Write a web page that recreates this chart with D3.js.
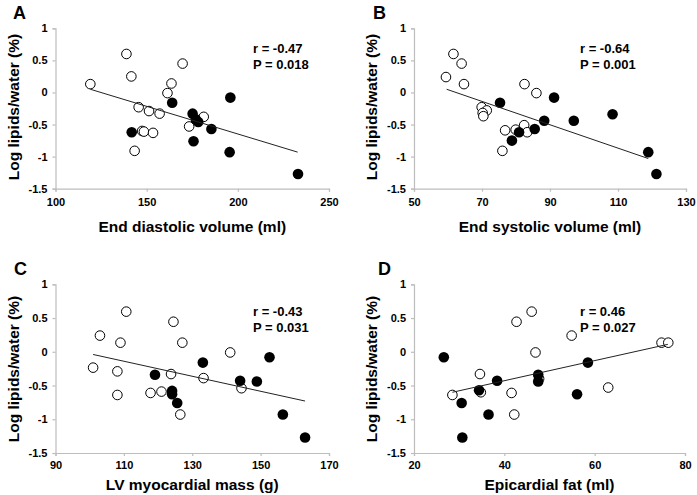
<!DOCTYPE html>
<html><head><meta charset="utf-8">
<script src="https://cdn.jsdelivr.net/npm/d3@7"></script>
<style>body{margin:0;background:#fff}svg{display:block}text{font-family:"Liberation Sans",Arial,sans-serif;font-weight:bold;fill:#000}</style>
</head><body>
<svg id="c" width="697" height="495"></svg>
<script>
// ---- data ----
const yTickValues = [1, 0.5, 0, -0.5, -1, -1.5];
const yTickLabels = ["1", "0.5", "0", "-0.5", "-1", "-1.5"];
const yTitle = "Log lipids/water (%)";

const panelLetters = ["A", "B", "C", "D"];
const xTitles = ["End diastolic volume (ml)", "End systolic volume (ml)", "LV myocardial mass (g)", "Epicardial fat (ml)"];
const xDomains = [[100, 250], [50, 130], [90, 170], [20, 80]];
const xTicksA = [100, 150, 200, 250];
const xTicksB = [50, 70, 90, 110, 130];
const xTicksC = [90, 110, 130, 150, 170];
const xTicksD = [20, 40, 60, 80];
const rLabels = ["r = -0.47", "r = -0.64", "r = -0.43", "r = 0.46"];
const pLabels = ["P = 0.018", "P = 0.001", "P = 0.031", "P = 0.027"];

const openA = [[119.1,0.13],[138.9,0.60],[141.6,0.25],[143.4,-0.91],[145.6,-0.23],[147.5,-0.60],[148.5,-0.61],[151.3,-0.29],[153.5,-0.63],[157.1,-0.33],[161.4,-0.01],[163.6,0.14],[169.7,0.45],[173.3,-0.53],[181.3,-0.38]];
const filledA = [[141.8,-0.62],[164.0,-0.16],[175.2,-0.33],[177.0,-0.42],[178.3,-0.46],[175.7,-0.76],[185.5,-0.57],[195.9,-0.08],[195.5,-0.93],[233.0,-1.27]];
const fitA = [[119.1,0.05],[232.8,-0.93]];

const openB = [[59.4,0.24],[61.6,0.60],[64.0,0.45],[64.7,0.13],[69.9,-0.23],[71.4,-0.28],[70.2,-0.32],[70.4,-0.37],[76.0,-0.91],[76.8,-0.59],[79.9,-0.58],[82.4,-0.51],[83.3,-0.62],[82.5,0.13],[86.0,-0.01]];
const filledB = [[75.3,-0.16],[78.8,-0.75],[80.9,-0.62],[85.5,-0.57],[88.3,-0.44],[91.2,-0.08],[97.0,-0.44],[108.4,-0.34],[118.9,-0.93],[121.3,-1.27]];
const fitB = [[59.6,0.05],[118.9,-1.03]];

const openC = [[101.0,-0.235],[103.0,0.24],[110.7,0.595],[109.0,0.135],[108.1,-0.29],[108.1,-0.64],[117.8,-0.61],[121.0,-0.59],[123.8,-0.33],[124.5,0.445],[127.1,0.135],[126.5,-0.93],[133.3,-0.39],[141.1,-0.01],[144.4,-0.54]];
const filledC = [[119.1,-0.34],[124.1,-0.58],[124.1,-0.63],[125.6,-0.76],[133.1,-0.16],[144.0,-0.43],[148.9,-0.44],[152.6,-0.08],[156.5,-0.93],[163.0,-1.27]];
const fitC = [[101.0,-0.04],[163.0,-0.73]];

const openD = [[28.5,-0.64],[34.6,-0.33],[34.8,-0.60],[41.6,-0.61],[42.2,-0.93],[42.7,0.445],[46.05,0.595],[46.9,-0.01],[47.7,-0.40],[54.9,0.24],[63.0,-0.53],[74.8,0.135],[76.3,0.135]];
const filledD = [[26.6,-0.08],[30.55,-0.76],[30.7,-1.27],[34.4,-0.57],[36.5,-0.93],[38.4,-0.43],[47.5,-0.34],[47.5,-0.44],[56.1,-0.63],[58.5,-0.16]];
const fitD = [[28.5,-0.60],[76.2,0.11]];

// ---- layout ----
const layouts = [
  {x0:55.5, x1:329, y0:28.3, y1:188.7, letter:[13,19], yTitleX:19, yTitleY:107, xLabY:206, xTitleY:232, annX:253, annY:53},
  {x0:414, x1:686, y0:28.3, y1:188.7, letter:[373,19], yTitleX:377, yTitleY:107, xLabY:206, xTitleY:232, annX:580, annY:53},
  {x0:55.5, x1:329, y0:284.3, y1:453, letter:[14,275], yTitleX:19, yTitleY:369, xLabY:469, xTitleY:490, annX:253, annY:315.5},
  {x0:414, x1:685, y0:284.3, y1:453, letter:[378,275], yTitleX:377, yTitleY:369, xLabY:469, xTitleY:490, annX:580, annY:315.5}
];
const xTicksAll = [xTicksA, xTicksB, xTicksC, xTicksD];
const opens = [openA, openB, openC, openD];
const filleds = [filledA, filledB, filledC, filledD];
const fits = [fitA, fitB, fitC, fitD];

const svg = d3.select("#c");
const axisColor = "#bdbdbd";

layouts.forEach((L, i) => {
  const g = svg.append("g");
  const x = d3.scaleLinear().domain(xDomains[i]).range([L.x0, L.x1]);
  const y = d3.scaleLinear().domain([-1.5, 1]).range([L.y1, L.y0]);

  // y axis
  const ya = g.append("g").attr("transform", `translate(${L.x0},0)`)
    .call(d3.axisLeft(y).tickValues(yTickValues).tickFormat((d, k) => yTickLabels[k]).tickSize(3).tickPadding(5));
  ya.select(".domain").attr("stroke", axisColor).attr("stroke-width", 1.2);
  ya.selectAll(".tick line").attr("stroke", axisColor).attr("stroke-width", 1.2);
  ya.selectAll("text").style("font-size", "11px").style("font-family", '"Liberation Sans",Arial,sans-serif').style("font-weight", "bold").attr("fill", "#000");

  // x axis
  const xa = g.append("g").attr("transform", `translate(0,${L.y1})`)
    .call(d3.axisBottom(x).tickValues(xTicksAll[i]).tickFormat(d3.format("d")).tickSize(3).tickPadding(0));
  xa.select(".domain").attr("stroke", axisColor).attr("stroke-width", 1.2);
  xa.selectAll(".tick line").attr("stroke", axisColor).attr("stroke-width", 1.2);
  xa.selectAll("text").attr("dy", null).attr("y", L.xLabY - L.y1)
    .style("font-size", "11px").style("font-family", '"Liberation Sans",Arial,sans-serif').style("font-weight", "bold").attr("fill", "#000");

  // titles
  g.append("text").attr("x", L.letter[0]).attr("y", L.letter[1]).style("font-size", "18px").text(panelLetters[i]);
  g.append("text").attr("transform", `translate(${L.yTitleX},${L.yTitleY}) rotate(-90)`)
    .attr("text-anchor", "middle").style("font-size", "15.5px").text(yTitle);
  g.append("text").attr("x", (L.x0 + L.x1) / 2).attr("y", L.xTitleY)
    .attr("text-anchor", "middle").style("font-size", "15.5px").text(xTitles[i]);

  // points
  g.append("g").selectAll("circle").data(opens[i]).join("circle")
    .attr("cx", d => x(d[0])).attr("cy", d => y(d[1])).attr("r", 4.8)
    .attr("fill", "#fff").attr("stroke", "#000").attr("stroke-width", 1);
  g.append("g").selectAll("circle").data(filleds[i]).join("circle")
    .attr("cx", d => x(d[0])).attr("cy", d => y(d[1])).attr("r", 5.3)
    .attr("fill", "#000");

  // fit line
  g.append("path").datum(fits[i])
    .attr("d", d3.line().x(d => x(d[0])).y(d => y(d[1])))
    .attr("stroke", "#222").attr("stroke-width", 1).attr("fill", "none");

  // annotation
  g.append("text").attr("x", L.annX).attr("y", L.annY).style("font-size", "13px").text(rLabels[i]);
  g.append("text").attr("x", L.annX).attr("y", L.annY + 16).style("font-size", "13px").text(pLabels[i]);
});
</script>
</body></html>
